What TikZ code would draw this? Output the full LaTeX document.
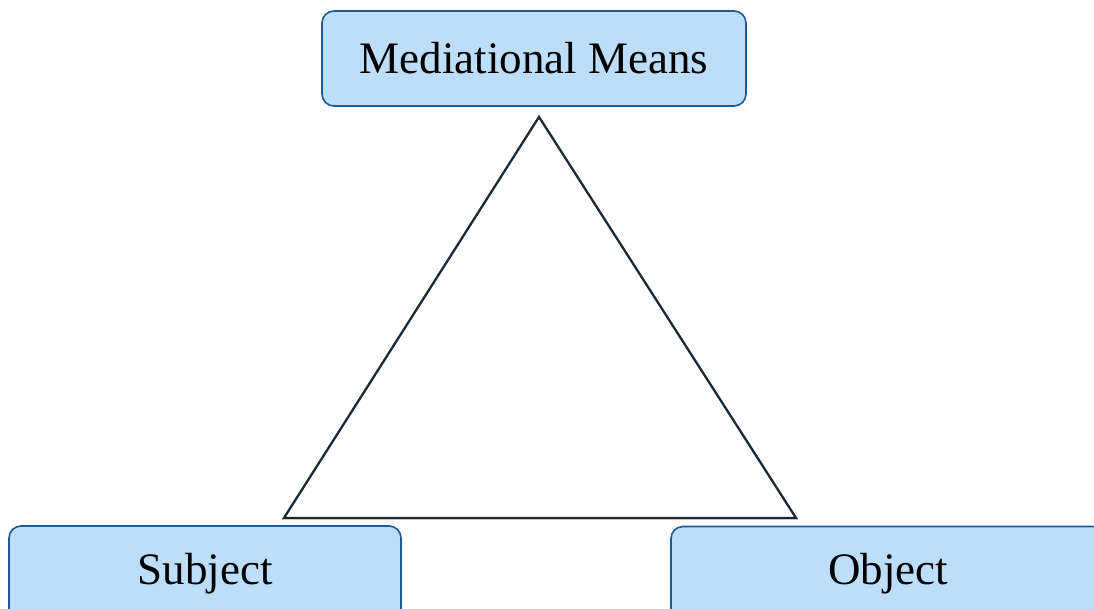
\documentclass[tikz,border=0pt]{standalone}
\usepackage{fontspec}
\setmainfont{Liberation Serif}
\usetikzlibrary{positioning}
\definecolor{edge}{HTML}{1E5A92}
\definecolor{sky}{HTML}{BCDEFB}
\definecolor{ink}{HTML}{1B2836}
\tikzset{box/.style={draw=edge,fill=sky,rounded corners=12pt,line width=1.6pt,
 minimum height=95pt,font=\fontsize{45}{54}\selectfont,inner sep=0pt},
 tri/.style={draw=ink,line width=2.2pt,line join=miter}}
\begin{document}
\begin{tikzpicture}[x=1pt,y=-1pt]
\useasboundingbox (0,0) rectangle (1094,608);
\clip (0,0) rectangle (1094,608);
\node[box,minimum width=424pt] (means) at (534,58.5) {Mediational Means};
\node[box,minimum width=392pt] (subject) at (205,573.5) {Subject};
\node[box,minimum width=434pt] (object) at (888,574) {Object};
\coordinate (top) at (539,117);
\coordinate (left) at (284,518);
\coordinate (right) at (796,518);
\draw[black!35,line width=2.5pt,shift={(1.5pt,-2pt)}] (top)--(left)--(right)--cycle;
\draw[tri,fill=white] (top)--(left)--(right)--cycle;
\end{tikzpicture}
\end{document}
